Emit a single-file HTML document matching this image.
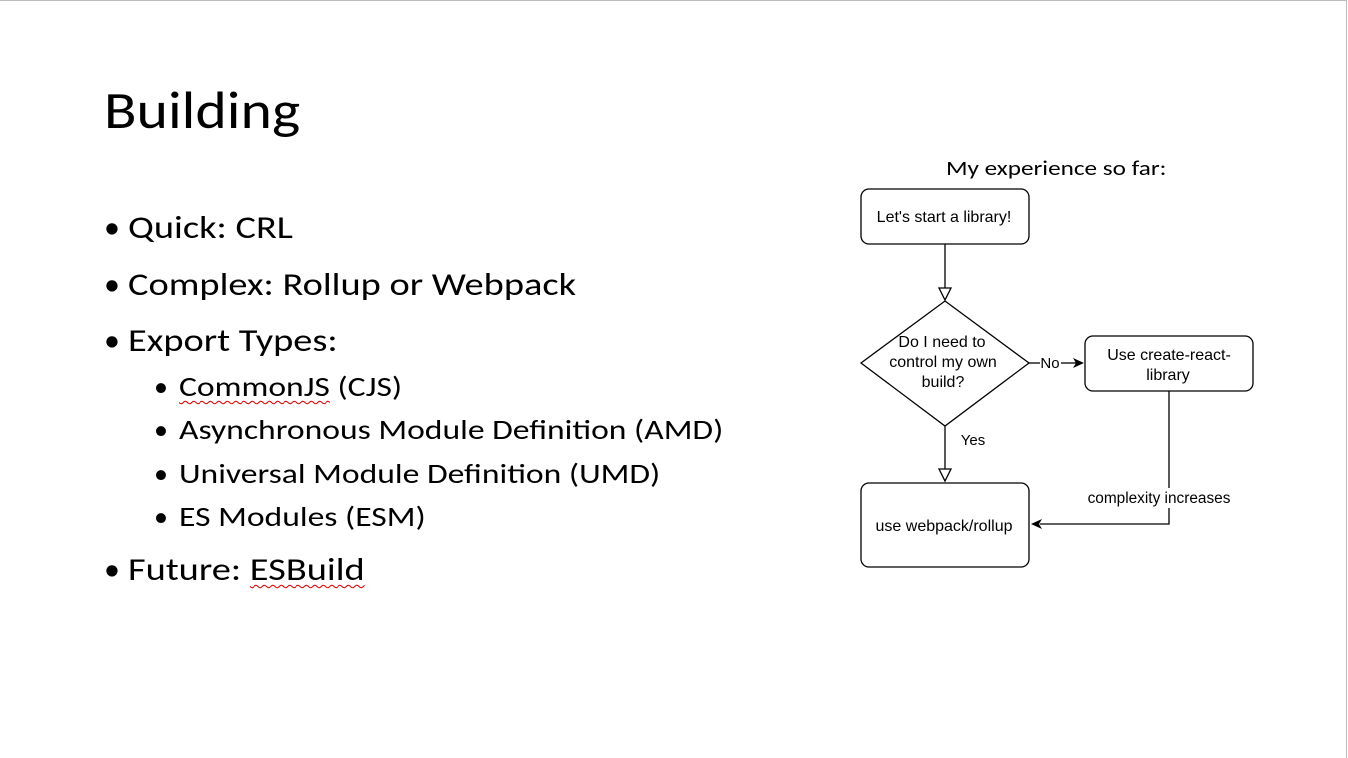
<!DOCTYPE html>
<html><head><style>
body{margin:0;width:1348px;height:758px;background:#fff;position:relative;overflow:hidden;font-family:"Liberation Sans",sans-serif;color:#000}
.t{position:absolute;white-space:nowrap;font-family:"Carlito","Liberation Sans",sans-serif;transform:scaleX(1.2);transform-origin:0 0}
.b{position:absolute;font-family:"Carlito","Liberation Sans",sans-serif}
.sq{text-decoration:underline wavy #d00;text-decoration-thickness:1px;text-underline-offset:4px}
</style></head><body>
<div style="position:absolute;left:0;top:0;width:1346px;height:1px;background:#bbb"></div>
<div style="position:absolute;left:1346px;top:0;width:1px;height:758px;background:#bbb"></div>
<div class="t" style="left:104px;top:78px;font-size:52px;transform:scaleX(1.15)">Building</div>
<div class="b" style="left:104px;top:208px;font-size:32px">•</div>
<div class="t" style="left:128px;top:208px;font-size:32px">Quick: CRL</div>
<div class="b" style="left:104px;top:265px;font-size:32px">•</div>
<div class="t" style="left:128px;top:265px;font-size:32px">Complex: Rollup or Webpack</div>
<div class="b" style="left:104px;top:321px;font-size:32px">•</div>
<div class="t" style="left:128px;top:321px;font-size:32px">Export Types:</div>
<div class="b" style="left:154px;top:369px;font-size:28px">•</div>
<div class="t" style="left:179px;top:369px;font-size:28px"><span class="sq">CommonJS</span> (CJS)</div>
<div class="b" style="left:154px;top:412px;font-size:28px">•</div>
<div class="t" style="left:179px;top:412px;font-size:28px">Asynchronous Module Definition (AMD)</div>
<div class="b" style="left:154px;top:456px;font-size:28px">•</div>
<div class="t" style="left:179px;top:456px;font-size:28px">Universal Module Definition (UMD)</div>
<div class="b" style="left:154px;top:499px;font-size:28px">•</div>
<div class="t" style="left:179px;top:499px;font-size:28px">ES Modules (ESM)</div>
<div class="b" style="left:104px;top:550px;font-size:32px">•</div>
<div class="t" style="left:128px;top:550px;font-size:32px">Future: <span class="sq">ESBuild</span></div>
<div class="t" style="left:946px;top:155px;font-size:21px">My experience so far:</div>
<svg width="1348" height="758" style="position:absolute;left:0;top:0" font-family="Liberation Sans, sans-serif" font-size="16">
<g fill="none" stroke="#000" stroke-width="1.3">
<rect x="861" y="189" width="168" height="55" rx="8"/>
<polygon points="945,301 1029,363 945,426 861,363"/>
<rect x="1085" y="336" width="168" height="55" rx="8"/>
<rect x="861" y="483" width="168" height="84" rx="8"/>
<line x1="945" y1="244" x2="945" y2="288"/>
<polygon points="939,288 951,288 945,300" fill="#fff"/>
<line x1="945" y1="426" x2="945" y2="469"/>
<polygon points="939,469 951,469 945,481" fill="#fff"/>
<line x1="1029" y1="363" x2="1040" y2="363"/>
<line x1="1061" y1="363" x2="1076" y2="363"/>
<polyline points="1169,391 1169,488"/>
<polyline points="1169,508 1169,524 1040,524"/>
</g>
<polygon points="1084,363 1073,358 1076,363 1073,368" fill="#000"/>
<polygon points="1031,524 1042,519 1039,524 1042,529" fill="#000"/>
<text x="944" y="222" text-anchor="middle">Let's start a library!</text>
<text x="942" y="347" text-anchor="middle">Do I need to</text>
<text x="943" y="367" text-anchor="middle">control my own</text>
<text x="943" y="387" text-anchor="middle">build?</text>
<text x="1050" y="368" text-anchor="middle" font-size="15">No</text>
<text x="1169" y="360" text-anchor="middle">Use create-react-</text>
<text x="1168" y="380" text-anchor="middle">library</text>
<text x="973" y="445" text-anchor="middle" font-size="15">Yes</text>
<text x="1159" y="503" text-anchor="middle" font-size="15.4">complexity increases</text>
<text x="944" y="531" text-anchor="middle">use webpack/rollup</text>
</svg>
</body></html>
